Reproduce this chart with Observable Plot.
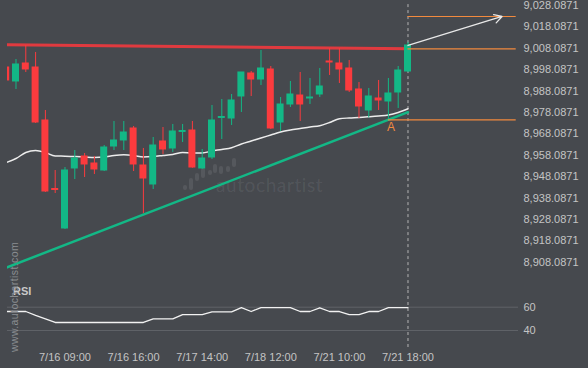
<!DOCTYPE html>
<html><head><meta charset="utf-8">
<script src="https://cdn.jsdelivr.net/npm/d3@7"></script>
<script src="https://cdn.jsdelivr.net/npm/@observablehq/plot@0.6"></script>
<style>
html,body{margin:0;padding:0;background:#46494e;}
#chart{position:relative;width:588px;height:368px;background:#46494e;overflow:hidden;font-family:"Liberation Sans",Arial,sans-serif;}
#main,#rsi{position:absolute;left:0;}
#main{top:0;}
#rsi{top:290px;}
#wm{position:absolute;left:216px;top:173px;font-family:Lato,"Open Sans",sans-serif;font-size:19px;letter-spacing:0.6px;color:rgba(255,255,255,0.085);}
#logo{position:absolute;left:180px;top:155px;}
#site{position:absolute;left:13.5px;top:297px;transform:translate(-50%,-50%) rotate(-90deg);font-size:10.5px;letter-spacing:0.4px;color:#8a8d91;white-space:nowrap;}
#rsilab{position:absolute;left:13px;top:285px;font-size:11px;font-weight:bold;color:#c8c8c8;}
</style></head><body>
<div id="chart">
  <svg id="logo" width="60" height="40"><g fill="rgba(255,255,255,0.085)">
    <rect x="3" y="30" width="4" height="5" rx="2"/><rect x="9" y="23" width="4" height="12" rx="2"/>
    <rect x="15" y="18" width="4" height="8" rx="2"/><rect x="21" y="13" width="4" height="10" rx="2"/>
    <rect x="28" y="15" width="4" height="5" rx="2"/><rect x="33" y="9" width="4" height="9" rx="2"/>
    <rect x="39" y="11" width="4" height="8" rx="2"/><rect x="46" y="11" width="4" height="6" rx="2"/>
    <rect x="52" y="3" width="4" height="9" rx="2"/></g></svg>
  <div id="wm">autochartist</div>
  <div id="main"></div>
  <div id="rsi"></div>
  <div id="rsilab">RSI</div>
  <div id="site">www.autochartist.com</div>
</div>
<script>
// ---- data ----
const open  = [8999.10, 8992.56, 9000.97, 8999.10, 8974.33, 8942.30, 8923.84, 8951.89, 8957.50, 8954.22, 8950.95, 8962.17, 8964.98, 8970.59, 8953.29, 8944.41, 8964.51, 8961.24, 8968.95, 8969.65, 8951.89, 8957.03, 8975.50, 8975.26, 8985.55, 8996.30, 8993.49, 8998.17, 8973.39, 8981.81, 8986.01, 8984.61, 8986.48, 9001.91, 9000.97, 8998.64, 8988.82, 8979.00, 8984.61, 8983.21, 8987.42, 8997.23];
const high  = [8999.57, 9002.84, 9009.39, 9006.12, 8979.00, 8950.95, 8952.35, 8960.30, 8958.90, 8957.50, 8962.64, 8973.86, 8973.86, 8971.52, 8961.24, 8966.38, 8971.05, 8972.46, 8972.46, 8973.86, 8960.77, 8981.34, 8984.14, 8986.48, 8996.77, 8997.23, 9007.05, 8999.57, 8985.08, 8992.56, 8996.77, 8993.96, 8998.64, 9007.99, 9007.99, 9002.38, 8992.09, 8989.29, 8993.03, 8993.96, 8999.57, 9010.79];
const low   = [8992.56, 8988.82, 8996.77, 8972.92, 8940.67, 8940.20, 8923.37, 8946.74, 8947.68, 8949.08, 8950.48, 8960.30, 8960.30, 8950.48, 8930.85, 8942.07, 8958.43, 8959.37, 8964.04, 8952.00, 8951.50, 8956.09, 8965.44, 8971.99, 8978.07, 8985.55, 8990.69, 8970.12, 8969.18, 8980.40, 8973.86, 8981.81, 8985.08, 8995.36, 8991.62, 8987.42, 8975.26, 8975.50, 8979.00, 8974.65, 8979.94, 8996.80];
const close = [8993.03, 9000.51, 8998.17, 8973.39, 8941.13, 8941.84, 8950.95, 8956.56, 8953.76, 8951.42, 8961.70, 8964.98, 8968.72, 8953.76, 8947.21, 8962.64, 8960.77, 8969.18, 8969.42, 8952.35, 8956.56, 8974.33, 8975.96, 8983.68, 8996.77, 8993.49, 8998.64, 8970.59, 8981.81, 8986.48, 8981.81, 8985.08, 8990.22, 9001.44, 8998.17, 8988.35, 8980.87, 8985.55, 8983.68, 8986.95, 8997.70, 9009.39];
const ma    = [8954.69, 8956.56, 8959.37, 8960.30, 8959.37, 8957.73, 8957.64, 8957.50, 8957.26, 8957.03, 8957.26, 8957.96, 8958.29, 8957.96, 8957.26, 8957.50, 8957.96, 8958.43, 8959.37, 8959.13, 8959.13, 8960.07, 8960.77, 8961.56, 8963.34, 8964.74, 8966.15, 8967.55, 8968.95, 8969.89, 8970.59, 8971.29, 8971.85, 8973.39, 8975.12, 8975.50, 8975.73, 8976.06, 8976.43, 8976.90, 8978.07, 8979.80];
const rsi   = [56.3, 56.3, 56.3, 53.0, 50.0, 46.9, 46.9, 46.9, 46.9, 46.9, 46.9, 46.9, 46.9, 46.9, 46.9, 50.0, 50.0, 50.0, 53.7, 53.7, 53.7, 56.0, 56.0, 56.0, 59.7, 56.3, 59.7, 59.7, 59.7, 59.7, 56.3, 56.3, 59.5, 56.3, 56.3, 53.7, 53.7, 56.3, 56.3, 59.7, 59.7, 59.7];
const xTickIdx    = [6, 13, 20, 27, 34, 41];
const xTickLabels = ["7/16 09:00", "7/16 16:00", "7/17 14:00", "7/18 12:00", "7/21 10:00", "7/21 18:00"];
const yTicks = [8908.0871, 8918.0871, 8928.0871, 8938.0871, 8948.0871, 8958.0871, 8968.0871, 8978.0871, 8988.0871, 8998.0871, 9008.0871, 9018.0871, 9028.0871];
const rsiTicks = [40, 60];
const resistance = [{i: 0, p: 9009.78}, {i: 41, p: 9007.85}];
const support    = [{i: 0, p: 8905.52}, {i: 41, p: 8978.20}];
const levels = [{p: 9022.95, x1: 41, x2: 52.04}, {p: 9007.85, x1: 41, x2: 52.04}, {p: 8974.65, x1: 39, x2: 52.04}];
const forecast = [{x1: 41, y1: 9009.39, x2: 50.6, y2: 9022.95}];
const pointA = [{i: 39, p: 8974.65, t: "A"}];
const lastIdx = 41;

// ---- build ----
const candles = open.map((o, i) => ({i, o, h: high[i], l: low[i], c: close[i]}));
const up = candles.filter(d => d.c >= d.o), down = candles.filter(d => d.c < d.o);
const maData = ma.map((v, i) => ({i, v}));
const rsiData = rsi.map((v, i) => ({i, v}));
const GREEN = "#13b886", RED = "#fb3b3e", ORANGE = "#f28a3e";
const xDomain = [0.133, 52.276];
const font = '"Liberation Sans", Arial, sans-serif';
const bw = 0.357;

const main = Plot.plot({
  width: 588, height: 290, marginLeft: 7, marginRight: 70, marginTop: 0, marginBottom: 0,
  style: {background: "transparent", color: "#c4c4c4", fontSize: "11px", fontFamily: font},
  x: {type: "linear", domain: xDomain, axis: null},
  y: {domain: [8894.85, 9030.42], axis: "right", ticks: yTicks, tickSize: 0, tickPadding: 5,
      tickFormat: d3.format(",.4f"), label: null},
  marks: [
    Plot.ruleX([lastIdx], {y1: 9028.5, y2: 8894.85, stroke: "#b4b4b4", strokeWidth: 1, strokeDasharray: "3,3"}),
    Plot.line(support, {x: "i", y: "p", stroke: GREEN, strokeWidth: 2.5, clip: true}),
    Plot.line(resistance, {x: "i", y: "p", stroke: "#ee3a3e", strokeWidth: 3, strokeOpacity: 0.92, clip: true}),
    Plot.line(maData, {x: "i", y: "v", stroke: "#ececec", strokeWidth: 1.5, curve: "monotone-x", clip: true}),
    Plot.ruleX(up, {x: "i", y1: "l", y2: "h", stroke: GREEN, strokeWidth: 1, clip: true}),
    Plot.ruleX(down, {x: "i", y1: "l", y2: "h", stroke: RED, strokeWidth: 1, clip: true}),
    Plot.rect(up, {x1: d => d.i - bw, x2: d => d.i + bw, y1: "o", y2: "c", fill: GREEN, insetTop: -0.5, insetBottom: -0.5, clip: true}),
    Plot.rect(down, {x1: d => d.i - bw, x2: d => d.i + bw, y1: "o", y2: "c", fill: RED, insetTop: -0.5, insetBottom: -0.5, clip: true}),
    Plot.ruleY(levels, {y: "p", x1: "x1", x2: "x2", stroke: ORANGE, strokeWidth: 1.2}),
    Plot.arrow(forecast, {x1: "x1", y1: "y1", x2: "x2", y2: "y2", stroke: "#e8e8e8", strokeWidth: 1.3, headLength: 10}),
    Plot.text(pointA, {x: "i", y: "p", text: "t", fill: ORANGE, fontSize: 12, dx: 2.5, dy: 7})
  ]
});
document.getElementById("main").appendChild(main);

const rsiPlot = Plot.plot({
  width: 588, height: 78, marginLeft: 7, marginRight: 70, marginTop: 0, marginBottom: 20,
  style: {background: "transparent", color: "#c4c4c4", fontSize: "11px", fontFamily: font},
  x: {type: "linear", domain: xDomain, ticks: xTickIdx, tickSize: 0, tickPadding: 5, label: null,
      tickFormat: i => xTickLabels[xTickIdx.indexOf(i)]},
  y: {domain: [24.6, 74.3], axis: "right", ticks: rsiTicks, tickSize: 0, tickPadding: 5, label: null},
  marks: [
    Plot.ruleY(rsiTicks, {stroke: "#606368", strokeWidth: 1}),
    Plot.ruleX([lastIdx], {stroke: "#b4b4b4", strokeWidth: 1, strokeDasharray: "3,3"}),
    Plot.line(rsiData, {x: "i", y: "v", stroke: "#f2f2f2", strokeWidth: 1.3, clip: true})
  ]
});
document.getElementById("rsi").appendChild(rsiPlot);
</script>
</body></html>
